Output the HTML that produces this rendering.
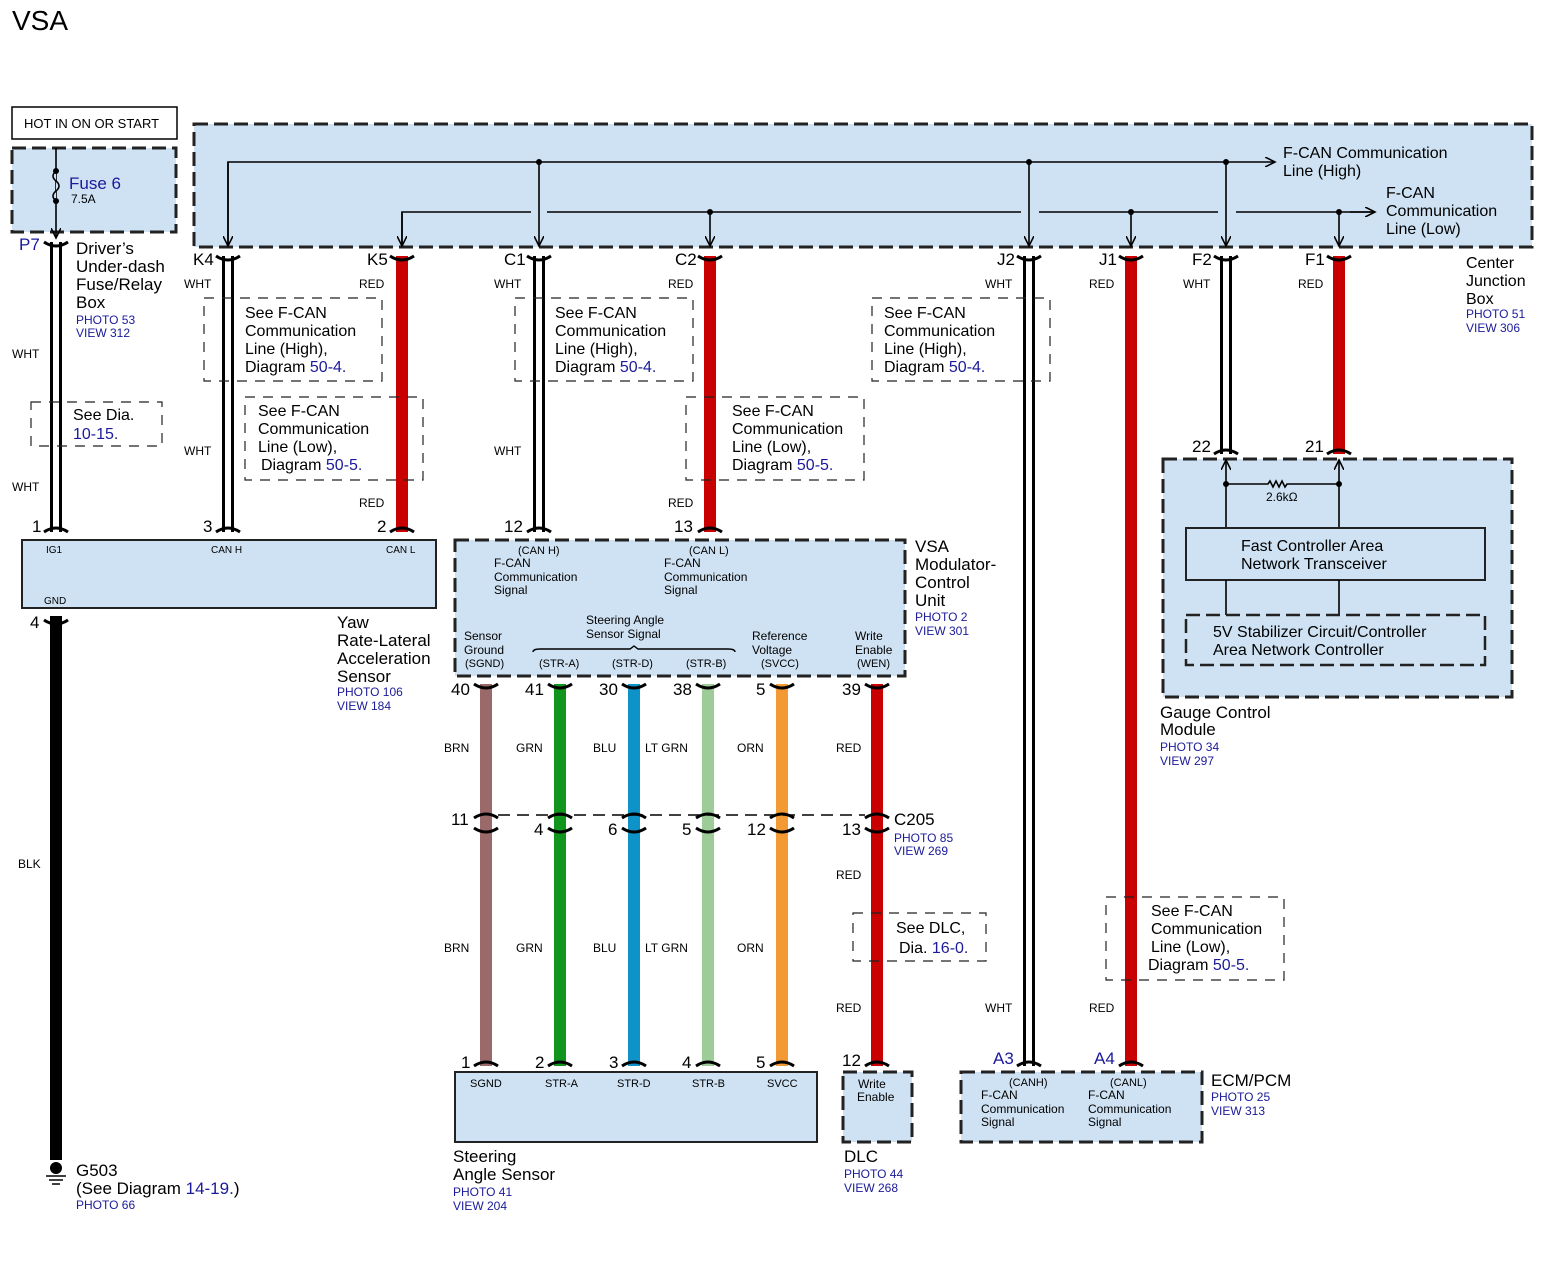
<!DOCTYPE html>
<html><head><meta charset="utf-8"><style>
html,body{margin:0;padding:0;background:#fff}
svg{display:block}
text{font-family:"Liberation Sans",sans-serif;fill:#000}
.b{fill:#1a1a9a}
.s{font-size:12px}
.m{font-size:16px}
.l{font-size:17px}
.bx{fill:#cfe2f3;stroke:#222;stroke-width:3;stroke-dasharray:14 6}
.nb{fill:none;stroke:#222;stroke-width:1.2;stroke-dasharray:10 8}
.c{fill:none;stroke:#000;stroke-width:3}
.ln{stroke:#000;stroke-width:1.6;fill:none}
</style></head><body>
<svg width="1552" height="1278" viewBox="0 0 1552 1278" xmlns="http://www.w3.org/2000/svg">
<defs><marker id="ar" markerWidth="12" markerHeight="10" refX="10" refY="5" orient="auto" markerUnits="userSpaceOnUse"><path d="M0 0 L10 5 L0 10" fill="none" stroke="#000" stroke-width="1.6"/></marker></defs>
<text x="12" y="30" style="font-size:28px">VSA</text>
<rect x="12" y="107" width="165" height="32" fill="#fff" stroke="#000" stroke-width="1.5"/>
<text x="24" y="128" class="s" style="font-size:13px">HOT IN ON OR START</text>
<rect x="12" y="148" width="164" height="84" class="bx"/>
<line x1="56" y1="148" x2="56" y2="238" class="ln" marker-end="url(#ar)"/>
<path d="M56 171 q-6 5 0 10 q6 5 0 10 q-6 5 0 10" fill="#cfe2f3" stroke="#000" stroke-width="1.6"/>
<circle cx="56" cy="171" r="3"/><circle cx="56" cy="201" r="3"/>
<text x="69" y="189" class="b" style="font-size:17px">Fuse 6</text>
<text x="71" y="203" class="s">7.5A</text>
<rect x="194" y="124" width="1338" height="123" class="bx"/>
<!-- high line -->
<path d="M228 246 V162 H1275" class="ln" marker-end="url(#ar)"/>
<line x1="228" y1="162" x2="228" y2="246" class="ln" marker-end="url(#ar)"/>
<line x1="539" y1="162" x2="539" y2="246" class="ln" marker-end="url(#ar)"/>
<line x1="1029" y1="162" x2="1029" y2="246" class="ln" marker-end="url(#ar)"/>
<line x1="1226" y1="162" x2="1226" y2="246" class="ln" marker-end="url(#ar)"/>
<circle cx="539" cy="162" r="3"/><circle cx="1029" cy="162" r="3"/><circle cx="1226" cy="162" r="3"/>
<!-- low line -->
<path d="M402 246 V212 H531 M547 212 H1021 M1039 212 H1218 M1236 212 H1375" class="ln"/>
<line x1="1350" y1="212" x2="1375" y2="212" class="ln" marker-end="url(#ar)"/>
<line x1="402" y1="212" x2="402" y2="246" class="ln" marker-end="url(#ar)"/>
<line x1="710" y1="212" x2="710" y2="246" class="ln" marker-end="url(#ar)"/>
<line x1="1131" y1="212" x2="1131" y2="246" class="ln" marker-end="url(#ar)"/>
<line x1="1339" y1="212" x2="1339" y2="246" class="ln" marker-end="url(#ar)"/>
<circle cx="710" cy="212" r="3"/><circle cx="1131" cy="212" r="3"/><circle cx="1339" cy="212" r="3"/>
<text x="1283" y="158" class="m">F-CAN Communication</text><text x="1283" y="176" class="m">Line (High)</text>
<text x="1386" y="198" class="m">F-CAN</text><text x="1386" y="216" class="m">Communication</text><text x="1386" y="234" class="m">Line (Low)</text>
<text x="1466" y="268" class="m">Center</text><text x="1466" y="286" class="m">Junction</text><text x="1466" y="304" class="m">Box</text>
<text x="1466" y="318" class="b s">PHOTO 51</text><text x="1466" y="332" class="b s">VIEW 306</text>

<!-- white wires -->
<g stroke="#000" stroke-width="12"><line x1="56" y1="242" x2="56" y2="532"/><line x1="228" y1="256" x2="228" y2="532"/><line x1="539" y1="256" x2="539" y2="532"/><line x1="1029" y1="256" x2="1029" y2="1066"/><line x1="1226" y1="256" x2="1226" y2="454"/></g>
<g stroke="#fff" stroke-width="6"><line x1="56" y1="242" x2="56" y2="532"/><line x1="228" y1="256" x2="228" y2="532"/><line x1="539" y1="256" x2="539" y2="532"/><line x1="1029" y1="256" x2="1029" y2="1066"/><line x1="1226" y1="256" x2="1226" y2="454"/></g>
<!-- red wires -->
<g stroke="#c80000" stroke-width="12"><line x1="402" y1="256" x2="402" y2="532"/><line x1="710" y1="256" x2="710" y2="532"/><line x1="1131" y1="256" x2="1131" y2="1066"/><line x1="1339" y1="256" x2="1339" y2="454"/><line x1="877" y1="684" x2="877" y2="1066"/></g>
<line x1="56" y1="616" x2="56" y2="1160" stroke="#000" stroke-width="12"/>
<g stroke-width="12"><line x1="486" y1="684" x2="486" y2="1066" stroke="#9a6a6a"/><line x1="560" y1="684" x2="560" y2="1066" stroke="#11951d"/><line x1="634" y1="684" x2="634" y2="1066" stroke="#0d93c8"/><line x1="708" y1="684" x2="708" y2="1066" stroke="#9dcc98"/><line x1="782" y1="684" x2="782" y2="1066" stroke="#f39a35"/></g>
<!-- caps -->
<g class="c">
<path d="M44 242 Q56 250 68 242"/><path d="M216 256 Q228 264 240 256"/><path d="M390 256 Q402 264 414 256"/><path d="M527 256 Q539 264 551 256"/><path d="M698 256 Q710 264 722 256"/><path d="M1017 256 Q1029 264 1041 256"/><path d="M1119 256 Q1131 264 1143 256"/><path d="M1214 256 Q1226 264 1238 256"/><path d="M1327 256 Q1339 264 1351 256"/>
<path d="M44 532 Q56 524 68 532"/><path d="M216 532 Q228 524 240 532"/><path d="M390 532 Q402 524 414 532"/><path d="M527 532 Q539 524 551 532"/><path d="M698 532 Q710 524 722 532"/>
<path d="M1214 454 Q1226 446 1238 454"/><path d="M1327 454 Q1339 446 1351 454"/>
<path d="M44 620 Q56 628 68 620"/>
<path d="M474 684 Q486 692 498 684"/><path d="M548 684 Q560 692 572 684"/><path d="M622 684 Q634 692 646 684"/><path d="M696 684 Q708 692 720 684"/><path d="M770 684 Q782 692 794 684"/><path d="M865 684 Q877 692 889 684"/>
<path d="M474 818 Q486 810 498 818"/><path d="M548 818 Q560 810 572 818"/><path d="M622 818 Q634 810 646 818"/><path d="M696 818 Q708 810 720 818"/><path d="M770 818 Q782 810 794 818"/><path d="M865 818 Q877 810 889 818"/>
<path d="M474 828 Q486 836 498 828"/><path d="M548 828 Q560 836 572 828"/><path d="M622 828 Q634 836 646 828"/><path d="M696 828 Q708 836 720 828"/><path d="M770 828 Q782 836 794 828"/><path d="M865 828 Q877 836 889 828"/>
<path d="M474 1066 Q486 1058 498 1066"/><path d="M548 1066 Q560 1058 572 1066"/><path d="M622 1066 Q634 1058 646 1066"/><path d="M696 1066 Q708 1058 720 1066"/><path d="M770 1066 Q782 1058 794 1066"/><path d="M865 1066 Q877 1058 889 1066"/><path d="M1017 1066 Q1029 1058 1041 1066"/><path d="M1119 1066 Q1131 1058 1143 1066"/>
</g>
<line x1="498" y1="815" x2="865" y2="815" stroke="#000" stroke-width="1.6" stroke-dasharray="12 7"/>
<!-- pin labels -->
<text x="19" y="250" class="b l">P7</text>
<text x="76" y="254" class="l">Driver’s</text><text x="76" y="272" class="l">Under-dash</text><text x="76" y="290" class="l">Fuse/Relay</text><text x="76" y="308" class="l">Box</text>
<text x="76" y="324" class="b s">PHOTO 53</text><text x="76" y="337" class="b s">VIEW 312</text>
<text x="193" y="265" class="l">K4</text><text x="367" y="265" class="l">K5</text><text x="504" y="265" class="l">C1</text><text x="675" y="265" class="l">C2</text><text x="997" y="265" class="l">J2</text><text x="1099" y="265" class="l">J1</text><text x="1192" y="265" class="l">F2</text><text x="1305" y="265" class="l">F1</text>
<text x="12" y="358" class="s">WHT</text><text x="12" y="491" class="s">WHT</text><text x="184" y="288" class="s">WHT</text><text x="184" y="455" class="s">WHT</text><text x="359" y="288" class="s">RED</text><text x="359" y="507" class="s">RED</text>
<text x="494" y="288" class="s">WHT</text><text x="494" y="455" class="s">WHT</text><text x="668" y="288" class="s">RED</text><text x="668" y="507" class="s">RED</text>
<text x="985" y="288" class="s">WHT</text><text x="1089" y="288" class="s">RED</text><text x="1183" y="288" class="s">WHT</text><text x="1298" y="288" class="s">RED</text>
<!-- note boxes -->
<rect x="31" y="402" width="131" height="44" class="nb"/><text x="73" y="420" class="m">See  Dia.</text><text x="73" y="439" class="b m">10-15.</text>
<rect x="204" y="298" width="178" height="83" class="nb"/><text x="245" y="318" class="m">See F-CAN</text><text x="245" y="336" class="m">Communication</text><text x="245" y="354" class="m">Line (High),</text><text x="245" y="372" class="m">Diagram  <tspan class="b">50-4.</tspan></text>
<rect x="245" y="397" width="178" height="83" class="nb"/><text x="258" y="416" class="m">See F-CAN</text><text x="258" y="434" class="m">Communication</text><text x="258" y="452" class="m">Line (Low),</text><text x="261" y="470" class="m">Diagram  <tspan class="b">50-5.</tspan></text>
<rect x="515" y="298" width="178" height="83" class="nb"/><text x="555" y="318" class="m">See F-CAN</text><text x="555" y="336" class="m">Communication</text><text x="555" y="354" class="m">Line (High),</text><text x="555" y="372" class="m">Diagram <tspan class="b">50-4.</tspan></text>
<rect x="686" y="397" width="178" height="83" class="nb"/><text x="732" y="416" class="m">See F-CAN</text><text x="732" y="434" class="m">Communication</text><text x="732" y="452" class="m">Line (Low),</text><text x="732" y="470" class="m">Diagram <tspan class="b">50-5.</tspan></text>
<rect x="872" y="298" width="178" height="83" class="nb"/><text x="884" y="318" class="m">See F-CAN</text><text x="884" y="336" class="m">Communication</text><text x="884" y="354" class="m">Line (High),</text><text x="884" y="372" class="m">Diagram <tspan class="b">50-4.</tspan></text>
<rect x="853" y="913" width="133" height="48" class="nb"/><text x="896" y="933" class="m">See DLC,</text><text x="899" y="953" class="m">Dia.  <tspan class="b">16-0.</tspan></text>
<rect x="1106" y="897" width="178" height="83" class="nb"/><text x="1151" y="916" class="m">See F-CAN</text><text x="1151" y="934" class="m">Communication</text><text x="1151" y="952" class="m">Line (Low),</text><text x="1148" y="970" class="m">Diagram <tspan class="b">50-5.</tspan></text>
<!-- yaw sensor -->
<text x="32" y="532" class="l">1</text><text x="203" y="532" class="l">3</text><text x="377" y="532" class="l">2</text>
<rect x="22" y="540" width="414" height="68" fill="#cfe2f3" stroke="#222" stroke-width="2"/>
<text x="46" y="553" style="font-size:10px">IG1</text><text x="211" y="553" style="font-size:10px">CAN H</text><text x="386" y="553" style="font-size:10px">CAN L</text><text x="44" y="604" style="font-size:10px">GND</text>
<text x="30" y="628" class="l">4</text>
<text x="337" y="628" class="l">Yaw</text><text x="337" y="646" class="l">Rate-Lateral</text><text x="337" y="664" class="l">Acceleration</text><text x="337" y="682" class="l">Sensor</text>
<text x="337" y="696" class="b s">PHOTO 106</text><text x="337" y="710" class="b s">VIEW 184</text>
<text x="18" y="868" class="s">BLK</text>
<!-- ground -->
<circle cx="56" cy="1168" r="6"/><line x1="46" y1="1176" x2="66" y2="1176" stroke="#000" stroke-width="1.5"/><line x1="49" y1="1180" x2="63" y2="1180" stroke="#000" stroke-width="1.5"/><line x1="52" y1="1184" x2="60" y2="1184" stroke="#000" stroke-width="1.5"/>
<text x="76" y="1176" class="l">G503</text><text x="76" y="1194" class="l">(See Diagram <tspan class="b">14-19.</tspan>)</text><text x="76" y="1209" class="b s">PHOTO 66</text>
<!-- VSA modulator -->
<text x="504" y="532" class="l">12</text><text x="674" y="532" class="l">13</text>
<rect x="455" y="540" width="450" height="136" class="bx"/>
<text x="518" y="554" style="font-size:11px">(CAN H)</text><text x="494" y="567" class="s">F-CAN</text><text x="494" y="581" class="s">Communication</text><text x="494" y="594" class="s">Signal</text>
<text x="689" y="554" style="font-size:11px">(CAN L)</text><text x="664" y="567" class="s">F-CAN</text><text x="664" y="581" class="s">Communication</text><text x="664" y="594" class="s">Signal</text>
<text x="586" y="624" class="s">Steering Angle</text><text x="586" y="638" class="s">Sensor Signal</text>
<path d="M533 652 Q533 649 540 649 H630 L634 646 L638 649 H728 Q735 649 735 652" fill="none" stroke="#000" stroke-width="1.4"/>
<text x="464" y="640" class="s">Sensor</text><text x="464" y="654" class="s">Ground</text><text x="465" y="667" style="font-size:11px">(SGND)</text>
<text x="539" y="667" style="font-size:11px">(STR-A)</text><text x="612" y="667" style="font-size:11px">(STR-D)</text><text x="686" y="667" style="font-size:11px">(STR-B)</text>
<text x="752" y="640" class="s">Reference</text><text x="752" y="654" class="s">Voltage</text><text x="761" y="667" style="font-size:11px">(SVCC)</text>
<text x="855" y="640" class="s">Write</text><text x="855" y="654" class="s">Enable</text><text x="857" y="667" style="font-size:11px">(WEN)</text>
<text x="915" y="552" class="l">VSA</text><text x="915" y="570" class="l">Modulator-</text><text x="915" y="588" class="l">Control</text><text x="915" y="606" class="l">Unit</text>
<text x="915" y="621" class="b s">PHOTO 2</text><text x="915" y="635" class="b s">VIEW 301</text>
<g class="l"><text x="451" y="695">40</text><text x="525" y="695">41</text><text x="599" y="695">30</text><text x="673" y="695">38</text><text x="756" y="695">5</text><text x="842" y="695">39</text>
<text x="451" y="825">11</text><text x="534" y="835">4</text><text x="608" y="835">6</text><text x="682" y="835">5</text><text x="747" y="835">12</text><text x="842" y="835">13</text>
<text x="461" y="1068">1</text><text x="535" y="1068">2</text><text x="609" y="1068">3</text><text x="682" y="1068">4</text><text x="756" y="1068">5</text><text x="842" y="1066">12</text></g>
<g class="s"><text x="444" y="752">BRN</text><text x="516" y="752">GRN</text><text x="593" y="752">BLU</text><text x="645" y="752">LT GRN</text><text x="737" y="752">ORN</text><text x="836" y="752">RED</text>
<text x="444" y="952">BRN</text><text x="516" y="952">GRN</text><text x="593" y="952">BLU</text><text x="645" y="952">LT GRN</text><text x="737" y="952">ORN</text><text x="836" y="879">RED</text><text x="836" y="1012">RED</text><text x="985" y="1012">WHT</text><text x="1089" y="1012">RED</text></g>
<text x="894" y="825" class="l">C205</text><text x="894" y="842" class="b s">PHOTO 85</text><text x="894" y="855" class="b s">VIEW 269</text>
<!-- steering angle sensor -->
<rect x="455" y="1072" width="362" height="70" fill="#cfe2f3" stroke="#222" stroke-width="2"/>
<g style="font-size:11px"><text x="470" y="1087">SGND</text><text x="545" y="1087">STR-A</text><text x="617" y="1087">STR-D</text><text x="692" y="1087">STR-B</text><text x="767" y="1087">SVCC</text></g>
<text x="453" y="1162" class="l">Steering</text><text x="453" y="1180" class="l">Angle Sensor</text><text x="453" y="1196" class="b s">PHOTO 41</text><text x="453" y="1210" class="b s">VIEW 204</text>
<!-- DLC -->
<rect x="843" y="1072" width="69" height="70" class="bx"/>
<text x="858" y="1088" class="s">Write</text><text x="857" y="1101" class="s">Enable</text>
<text x="844" y="1162" class="l">DLC</text><text x="844" y="1178" class="b s">PHOTO 44</text><text x="844" y="1192" class="b s">VIEW 268</text>
<!-- ECM -->
<text x="993" y="1064" class="b l">A3</text><text x="1094" y="1064" class="b l">A4</text>
<rect x="961" y="1072" width="241" height="70" class="bx"/>
<text x="1009" y="1086" style="font-size:11px">(CANH)</text><text x="981" y="1099" class="s">F-CAN</text><text x="981" y="1113" class="s">Communication</text><text x="981" y="1126" class="s">Signal</text>
<text x="1110" y="1086" style="font-size:11px">(CANL)</text><text x="1088" y="1099" class="s">F-CAN</text><text x="1088" y="1113" class="s">Communication</text><text x="1088" y="1126" class="s">Signal</text>
<text x="1211" y="1086" class="l">ECM/PCM</text><text x="1211" y="1101" class="b s">PHOTO 25</text><text x="1211" y="1115" class="b s">VIEW 313</text>
<!-- gauge -->
<text x="1192" y="452" class="l">22</text><text x="1305" y="452" class="l">21</text>
<rect x="1163" y="459" width="349" height="238" class="bx"/>
<line x1="1226" y1="528" x2="1226" y2="460" class="ln" marker-end="url(#ar)"/>
<line x1="1339" y1="528" x2="1339" y2="460" class="ln" marker-end="url(#ar)"/>
<path d="M1226 484 H1268 l2 -3 l3 6 l3 -6 l3 6 l3 -6 l3 6 l2 -3 H1339" class="ln"/>
<circle cx="1226" cy="484" r="3"/><circle cx="1339" cy="484" r="3"/>
<text x="1266" y="501" class="s">2.6kΩ</text>
<rect x="1186" y="528" width="299" height="52" fill="#cfe2f3" stroke="#222" stroke-width="2"/>
<text x="1241" y="551" class="m">Fast Controller Area</text><text x="1241" y="569" class="m">Network Transceiver</text>
<line x1="1226" y1="580" x2="1226" y2="615" class="ln"/><line x1="1339" y1="580" x2="1339" y2="615" class="ln"/>
<rect x="1186" y="615" width="299" height="50" fill="#cfe2f3" stroke="#222" stroke-width="2.5" stroke-dasharray="14 6"/>
<text x="1213" y="637" class="m">5V Stabilizer Circuit/Controller</text><text x="1213" y="655" class="m">Area Network Controller</text>
<text x="1160" y="718" class="l">Gauge Control</text><text x="1160" y="735" class="l">Module</text><text x="1160" y="751" class="b s">PHOTO 34</text><text x="1160" y="765" class="b s">VIEW 297</text>
</svg>
</body></html>
